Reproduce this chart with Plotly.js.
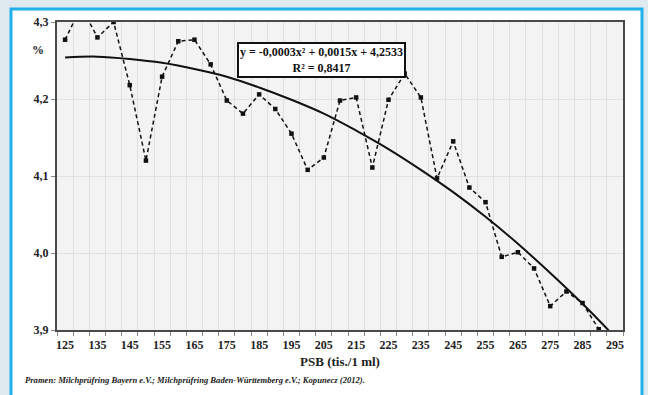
<!DOCTYPE html>
<html>
<head>
<meta charset="utf-8">
<script src="https://cdn.plot.ly/plotly-3.0.1.min.js"></script>
<style>
  html, body { margin: 0; padding: 0; background: #dfe9f0; }
  #chart { width: 648px; height: 395px; }
</style>
</head>
<body>
<div id="chart"></div>
<script>
// PSB categories (tis./1 ml)
const psb = [125,130,135,140,145,150,155,160,165,170,175,180,185,190,195,200,205,210,215,220,225,230,235,240,245,250,255,260,265,270,275,280,285,290];
// fat content (%)
const fat = [4.277,4.320,4.280,4.300,4.218,4.120,4.229,4.275,4.277,4.245,4.198,4.181,4.206,4.187,4.155,4.108,4.124,4.198,4.202,4.111,4.199,4.233,4.202,4.097,4.145,4.085,4.066,3.995,4.001,3.980,3.931,3.950,3.935,3.901];
// polynomial trend line
const trendX = [125,135,145,155,165,175,185,195,205,215,225,235,245,255,265,275,285,295];
const trendY = [4.254,4.255,4.252,4.247,4.239,4.229,4.215,4.199,4.181,4.159,4.135,4.108,4.079,4.047,4.012,3.974,3.934,3.891];

const xTickVals = [125,135,145,155,165,175,185,195,205,215,225,235,245,255,265,275,285,295];
const xTickText = ['125','135','145','155','165','175','185','195','205','215','225','235','245','255','265','275','285','295'];
const yTickVals = [3.9,4.0,4.1,4.2,4.3];
const yTickText = ['3,9','4,0','4,1','4,2','4,3'];

const eqText = 'y = -0,0003x² + 0,0015x + 4,2533<br>R² = 0,8417';
const xTitle = 'PSB (tis./1 ml)';
const yUnit = '%';
const sourceText = 'Pramen: Milchprüfring Bayern e.V.; Milchprüfring Baden-Württemberg e.V.; Kopunecz (2012).';

const serif = 'Liberation Serif, Times New Roman, serif';

const traces = [
  {
    x: psb, y: fat, type: 'scatter', mode: 'lines+markers',
    line: { color: '#111', width: 1.5, dash: '4px,3px' },
    marker: { symbol: 'square', size: 4.5, color: '#111' },
    hoverinfo: 'skip'
  },
  {
    x: trendX, y: trendY, type: 'scatter', mode: 'lines',
    line: { color: '#111', width: 2, shape: 'spline' },
    hoverinfo: 'skip'
  }
];

const layout = {
  width: 648, height: 395,
  margin: { l: 57, r: 25, t: 22, b: 65 },
  paper_bgcolor: '#dfe9f0',
  plot_bgcolor: '#f3f3f3',
  showlegend: false,
  xaxis: {
    range: [122.5, 297.5],
    tickmode: 'array', tickvals: xTickVals, ticktext: xTickText,
    ticks: '', showgrid: false, zeroline: false,
    showline: true, linecolor: '#4a4a4a', linewidth: 2, mirror: true,
    tickfont: { family: serif, size: 12, color: '#222', weight: 'bold' },
    ticklabelstandoff: 3,
    minor: { tickmode: 'linear', tick0: 122.5, dtick: 5, ticks: 'outside', ticklen: 4, tickcolor: '#888', tickwidth: 1, showgrid: true, gridcolor: '#e0e0e0', gridwidth: 1 },
    title: { text: xTitle, font: { family: serif, size: 13, color: '#222', weight: 'bold' }, standoff: 5 }
  },
  yaxis: {
    range: [3.9, 4.3],
    tickmode: 'array', tickvals: yTickVals, ticktext: yTickText,
    ticks: 'outside', ticklen: 4, tickcolor: '#888',
    showgrid: true, gridcolor: '#e0e0e0', gridwidth: 1, zeroline: false,
    showline: true, linecolor: '#4a4a4a', linewidth: 2, mirror: true,
    tickfont: { family: serif, size: 12, color: '#222', weight: 'bold' }
  },
  shapes: [
    { type: 'rect', xref: 'paper', yref: 'paper', layer: 'below',
      x0: (11-57)/566, x1: (642-57)/566, y0: (330-400)/308, y1: (330-9)/308,
      fillcolor: '#ffffff', line: { color: '#1fb1ea', width: 3 } },
    { type: 'rect', xref: 'paper', yref: 'paper', layer: 'below',
      x0: 0, x1: 1, y0: 0, y1: 1,
      fillcolor: '#f3f3f3', line: { width: 0 } }
  ],
  annotations: [
    { text: eqText, xref: 'paper', yref: 'paper', x: (321-57)/566, y: (330-60)/308,
      xanchor: 'center', yanchor: 'middle', showarrow: false, align: 'center',
      bgcolor: '#ffffff', bordercolor: '#111', borderwidth: 2, borderpad: 1,
      font: { family: serif, size: 12, color: '#111', weight: 'bold' } },
    { text: yUnit, xref: 'paper', yref: 'paper', x: (38-57)/566, y: (330-50)/308,
      xanchor: 'center', yanchor: 'middle', showarrow: false,
      font: { family: serif, size: 12, color: '#222', weight: 'bold' } },
    { text: sourceText, xref: 'paper', yref: 'paper', x: (23-57)/566, y: (330-380)/308,
      xanchor: 'left', yanchor: 'middle', showarrow: false,
      font: { family: serif, size: 8.6, color: '#222', weight: 'bold', style: 'italic' } }
  ]
};

Plotly.newPlot('chart', traces, layout, { staticPlot: true, displayModeBar: false });
</script>
</body>
</html>
